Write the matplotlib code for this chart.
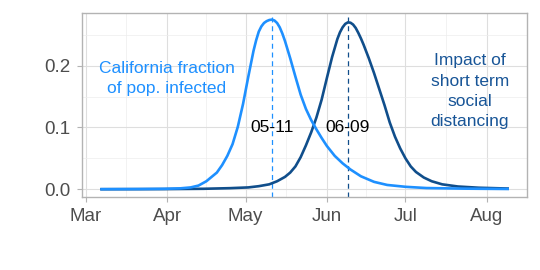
import numpy as np
import matplotlib
matplotlib.use("Agg")
import matplotlib.pyplot as plt
import matplotlib.dates as mdates

# days counted from 2020-03-01
start = np.datetime64("2020-03-01")

light_days = [6, 20, 30, 36, 40, 43, 46, 48, 50, 52, 54, 56, 58, 60, 62, 64, 65, 66, 67,
              68, 69, 70, 71, 72, 73, 74, 75, 76, 78, 80, 82, 84, 86, 88, 90, 92, 95,
              98, 101, 105, 110, 115, 122, 130, 145, 161]
light_vals = [0.0002, 0.0004, 0.0008, 0.0015, 0.003, 0.006, 0.013, 0.020, 0.027, 0.039,
              0.054, 0.073, 0.101, 0.138, 0.182, 0.224, 0.241, 0.255, 0.2635, 0.269,
              0.272, 0.2738, 0.2745, 0.273, 0.269, 0.262, 0.252, 0.240, 0.212, 0.182,
              0.153, 0.130, 0.112, 0.097, 0.083, 0.070, 0.054, 0.042, 0.032, 0.021,
              0.012, 0.007, 0.004, 0.002, 0.001, 0.0005]

dark_days = [6, 30, 45, 55, 62, 66, 70, 73, 76, 78, 80, 82, 84, 86, 88, 90, 92, 94, 96,
             97, 98, 99, 100, 101, 102, 103, 104, 105, 106, 108, 110, 112, 114, 116,
             118, 120, 122, 124, 126, 129, 132, 136, 142, 150, 161]
dark_vals = [0.0001, 0.0003, 0.0008, 0.0018, 0.003, 0.005, 0.008, 0.013, 0.020, 0.027,
             0.037, 0.052, 0.071, 0.092, 0.116, 0.145, 0.180, 0.214, 0.243, 0.254,
             0.262, 0.2675, 0.270, 0.2695, 0.2665, 0.261, 0.253, 0.244, 0.234, 0.212,
             0.188, 0.162, 0.136, 0.108, 0.085, 0.066, 0.050, 0.037, 0.028, 0.019,
             0.013, 0.008, 0.0045, 0.0025, 0.0012]

peak_dates = ["2020-05-11", "2020-06-09"]
peak_labels = ["05-11", "06-09"]

month_ticks = ["2020-03-01", "2020-04-01", "2020-05-01", "2020-06-01", "2020-07-01", "2020-08-01"]
y_ticks = [0.0, 0.1, 0.2]

light_col = "#1E90FF"
dark_col = "#104E8B"

plt.rcParams["font.family"] = ["Liberation Sans", "DejaVu Sans"]

fig = plt.figure(figsize=(5.4, 2.7), dpi=100)
ax = fig.add_axes([0.151, 0.2715, 0.8255, 0.6795])

light_x = start + np.array(light_days).astype("timedelta64[D]")
dark_x = start + np.array(dark_days).astype("timedelta64[D]")

ax.plot(dark_x, dark_vals, color=dark_col, lw=1.9, solid_joinstyle="round", zorder=3)
ax.plot(light_x, light_vals, color=light_col, lw=1.9, solid_joinstyle="round", zorder=3)

for d, lab, col in zip(peak_dates, peak_labels, [light_col, dark_col]):
    xd = np.datetime64(d)
    ax.axvline(xd, color=col, lw=0.9, ls=(0, (4, 3)), zorder=2)
    ax.text(xd, 0.1, lab, ha="center", va="center", fontsize=12.5, color="black", zorder=4)

base = mdates.date2num(start)
ax.text(base + 30.85, 0.179, "California fraction\nof pop. infected", ha="center",
        va="center", fontsize=12.5, color=light_col, linespacing=1.38)
ax.text(base + 146.6, 0.1586, "Impact of\nshort term\nsocial\ndistancing", ha="center",
        va="center", fontsize=12.5, color="#185597", linespacing=1.45)

# axes, grid, ticks in a light ggplot-like look
ax.set_xlim(base - 1.64, base + 168.5)
ax.set_ylim(-0.012, 0.2848)

major_x = [mdates.date2num(np.datetime64(m)) for m in month_ticks]
ax.set_xticks(major_x)
ax.set_xticklabels([np.datetime64(m).astype(object).strftime("%b") for m in month_ticks])
minor_x = [(a + b) / 2 for a, b in zip(major_x[:-1], major_x[1:])]
ax.set_xticks(minor_x, minor=True)
ax.set_yticks(y_ticks)
ax.set_yticklabels([f"{v:.1f}" for v in y_ticks])
ax.set_yticks([0.05, 0.15, 0.25], minor=True)

ax.grid(which="major", color="#DEDEDE", lw=0.8, zorder=0)
ax.grid(which="minor", color="#EDEDED", lw=0.5, zorder=0)
ax.set_axisbelow(True)

for s in ax.spines.values():
    s.set_color("#B3B3B3")
    s.set_linewidth(1.0)

ax.tick_params(which="major", length=3.6, width=0.8, color="#B3B3B3",
               labelcolor="#4D4D4D", labelsize=13.5)
ax.tick_params(axis="x", which="major", pad=4.5)
ax.tick_params(axis="y", which="major", pad=4.3)
ax.tick_params(which="minor", length=0)

fig.savefig("out.png", dpi=100)
